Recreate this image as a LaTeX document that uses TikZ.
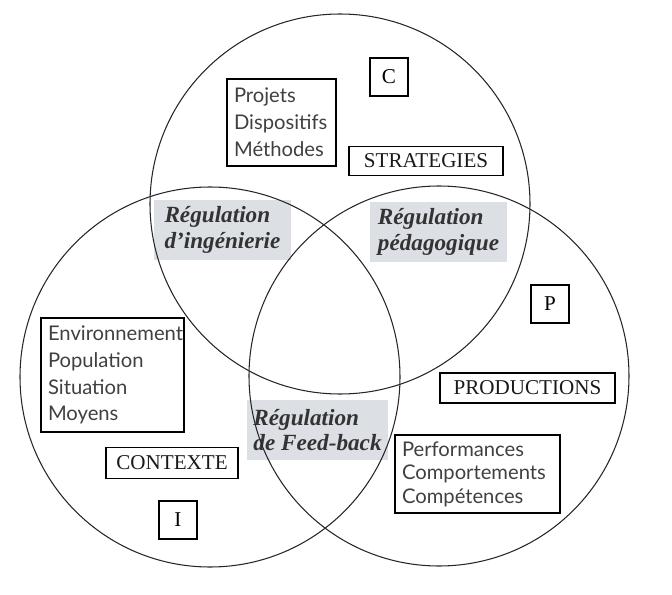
\documentclass[tikz,border=0pt]{standalone}
\usepackage{fontspec}
\setmainfont{Liberation Serif}
\newfontfamily\listfont{Lato}
\definecolor{regshade}{RGB}{220,223,228}
\begin{document}
\begin{tikzpicture}[
        box/.style={draw, line width=0.6pt, inner sep=0pt, font=\large, text=black!90},
        letterbox/.style={draw, line width=0.6pt, minimum size=0.76cm, inner sep=0mm, font=\large},
        listbox/.style={draw, line width=0.6pt, align=left, inner xsep=4pt, inner ysep=0pt, font=\listfont\fontsize{11.5}{15.3}\selectfont, text=black!75},
        regbox/.style={fill=regshade, minimum width=2.74cm, minimum height=1.2cm, align=left, font=\fontsize{13.2}{14.5}\selectfont\bfseries\itshape, text=black!80}
    ]
        \useasboundingbox (0,0) rectangle (13.44,11.88);

        % the three circles
        \node[regbox] (ingenierie) at (4.45, 7.28){R\'egulation\\d'ing\'enierie};
        \node[regbox] (pedagogique) at (8.77, 7.24){R\'egulation\\p\'edagogique};
        \node[regbox, minimum width=2.82cm] (feedback) at (6.35, 3.28){R\'egulation\\de Feed-back};
        \draw[line width=0.6pt, black!85] (6.8, 7.8) circle[radius=3.8];
        \draw[line width=0.6pt, black!85] (4.2, 4.34) circle[radius=3.8];
        \draw[line width=0.6pt, black!85] (8.78, 4.36) circle[radius=3.8];

        % strategies
        \node[letterbox] (c) at (7.78, 10.34){C};
        \node[listbox, text width=2.18cm-8pt, minimum height=1.74cm] (projets) at (5.63, 9.43){Projets\\Dispositifs\\M\'ethodes};
        \node[box, minimum width=3.08cm, minimum height=0.58cm] (strategies) at (8.52, 8.66){STRATEGIES};

        % productions
        \node[letterbox] (p) at (11.0, 5.80){P};
        \node[box, minimum width=3.5cm, minimum height=0.6cm] (productions) at (10.55, 4.12){PRODUCTIONS};
        \node[listbox, text width=3.3cm-8pt, minimum height=1.56cm, font=\listfont\fontsize{11.5}{13.4}\selectfont] (performances) at (9.55, 2.40){Performances\\Comportements\\Comp\'etences};

        % contexte
        \node[listbox, text width=2.86cm-8pt, minimum height=2.28cm] (environnement) at (2.25, 4.38){Environnement\\Population\\Situation\\Moyens};
        \node[box, minimum width=2.64cm, minimum height=0.62cm] (contexte) at (3.44, 2.62){CONTEXTE};
        \node[letterbox] (i) at (3.56, 1.48){I};
    \end{tikzpicture}
\end{document}
